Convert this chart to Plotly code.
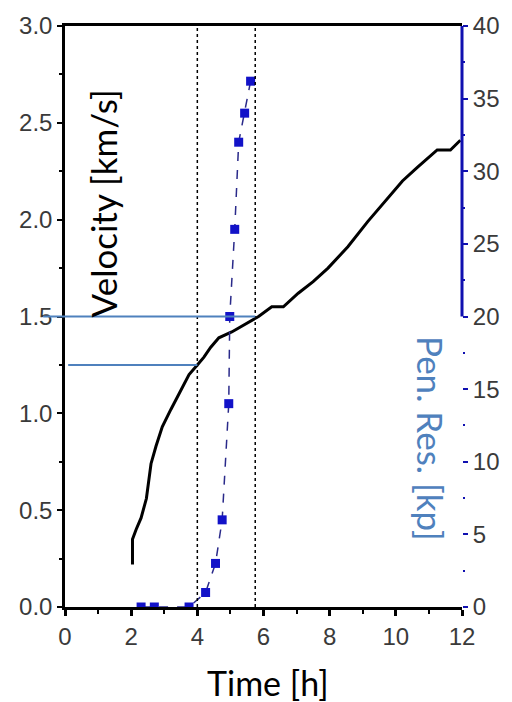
import plotly.graph_objects as go

# Projectile velocity over time (left axis)
time_vel = [2.04, 2.04, 2.15, 2.3, 2.46, 2.6, 2.75, 2.94, 3.2, 3.45, 3.75, 4.0, 4.2, 4.4,
            4.65, 5.04, 5.46, 5.85, 6.25, 6.6, 7.05, 7.5, 7.95, 8.55, 9.15, 9.75, 10.2,
            10.65, 11.25, 11.65, 11.95]
velocity = [0.22, 0.35, 0.40, 0.46, 0.56, 0.74, 0.83, 0.93, 1.02, 1.10, 1.20, 1.25, 1.29, 1.34,
            1.39, 1.42, 1.46, 1.50, 1.55, 1.55, 1.62, 1.68, 1.75, 1.86, 1.99, 2.11, 2.20,
            2.27, 2.36, 2.36, 2.41]

# Penetration resistance (right axis)
time_pen = [2.3, 2.7, 3.75, 4.25, 4.55, 4.75, 4.95, 4.98, 5.13, 5.25, 5.43, 5.61]
pen_res = [0, 0, 0, 1.0, 3.0, 6.0, 14.0, 20.0, 26.0, 32.0, 34.0, 36.2]

# Reference markers
marker_times = [4.0, 5.75]          # vertical dotted lines [h]
marker_velocities = [1.25, 1.5]     # horizontal guide lines [km/s]

x_ticks = [0, 2, 4, 6, 8, 10, 12]
y_ticks = [0.0, 0.5, 1.0, 1.5, 2.0, 2.5, 3.0]
y2_ticks = [0, 5, 10, 15, 20, 25, 30, 35, 40]

X_MAX = 12
TICK_FONT = dict(family="Liberation Sans, Arial", size=24, color="#3a3a3a")
TITLE_FONT = "Lato, Open Sans, sans-serif"
GUIDE_BLUE = "#4f81bd"
AXIS_BLUE = "#1010b0"

# plot-area geometry in pixels, used to place the titles
PL, PT, PW, PH = 65, 25, 400, 582


def px_to_paper(px, py):
    return (px - PL) / PW, (PT + PH - py) / PH


fig = go.Figure()

fig.add_trace(go.Scatter(
    x=time_vel, y=velocity, mode="lines",
    line=dict(color="black", width=3),
    showlegend=False,
))

fig.add_trace(go.Scatter(
    x=time_pen, y=pen_res, mode="lines+markers", yaxis="y2",
    line=dict(color="#2a2a8a", width=1.5, dash="dash"),
    marker=dict(symbol="square", size=9, color="#1212c8"),
    showlegend=False,
))

# vertical dotted time markers
for t in marker_times:
    fig.add_shape(type="line", xref="x", yref="paper", x0=t, x1=t, y0=0, y1=1,
                  line=dict(color="black", width=1.5, dash="dot"))

# horizontal velocity guides, ending at the matching time marker
fig.add_shape(type="line", xref="paper", yref="y",
              x0=-0.055, x1=marker_times[1] / X_MAX,
              y0=marker_velocities[1], y1=marker_velocities[1],
              line=dict(color=GUIDE_BLUE, width=2))
fig.add_shape(type="line", xref="paper", yref="y",
              x0=0.008, x1=marker_times[0] / X_MAX,
              y0=marker_velocities[0], y1=marker_velocities[0],
              line=dict(color=GUIDE_BLUE, width=2))

# visible part of the right axis spine
fig.add_shape(type="line", xref="paper", yref="y2", x0=1, x1=1, y0=20, y1=40,
              line=dict(color=AXIS_BLUE, width=3))

vx, vy = px_to_paper(103, 203)
rx, ry = px_to_paper(433, 438)
tx, ty = px_to_paper(270, 683)

fig.update_layout(
    width=512, height=702,
    margin=dict(l=PL, r=512 - PL - PW, t=PT, b=702 - PT - PH),
    paper_bgcolor="white", plot_bgcolor="white",
    xaxis=dict(
        range=[0, X_MAX], tickvals=x_ticks, ticktext=[str(v) for v in x_ticks],
        showgrid=False, zeroline=False,
        showline=True, linecolor="black", linewidth=2.5, mirror=True,
        ticks="outside", ticklen=6, tickwidth=2.5, tickcolor="black",
        minor=dict(dtick=1, ticks="outside", ticklen=4, tickwidth=2, tickcolor="black"),
        tickfont=TICK_FONT,
    ),
    xaxis2=dict(
        range=[0, X_MAX], overlaying="x", side="top", tickvals=x_ticks,
        showticklabels=False, showgrid=False, zeroline=False,
        ticks="inside", ticklen=5, tickwidth=2.5, tickcolor="black",
        minor=dict(dtick=1, ticks="inside", ticklen=3, tickwidth=2, tickcolor="black"),
    ),
    yaxis=dict(
        range=[0, 3.0], tickvals=y_ticks, ticktext=[f"{v:.1f}" for v in y_ticks],
        showgrid=False, zeroline=False,
        showline=True, linecolor="black", linewidth=2.5,
        ticks="outside", ticklen=5, tickwidth=2, tickcolor="black",
        minor=dict(dtick=0.25, ticks="outside", ticklen=3, tickwidth=1.5, tickcolor="black"),
        tickfont=TICK_FONT,
    ),
    yaxis2=dict(
        range=[0, 40], tickvals=y2_ticks, ticktext=[str(v) for v in y2_ticks],
        overlaying="y", side="right",
        showgrid=False, zeroline=False, showline=False,
        ticks="outside", ticklen=5, tickwidth=2, tickcolor=AXIS_BLUE,
        minor=dict(dtick=2.5, ticks="outside", ticklen=2, tickwidth=1.5, tickcolor=AXIS_BLUE),
        tickfont=TICK_FONT,
    ),
    annotations=[
        dict(text="Velocity [km/s]", textangle=-90, xref="paper", yref="paper",
             x=vx, y=vy, xanchor="center", yanchor="middle", showarrow=False,
             font=dict(family=TITLE_FONT, size=35, color="black")),
        dict(text="Pen. Res. [kp]", textangle=90, xref="paper", yref="paper",
             x=rx, y=ry, xanchor="center", yanchor="middle", showarrow=False,
             font=dict(family=TITLE_FONT, size=35, color=GUIDE_BLUE)),
        dict(text="Time [h]", xref="paper", yref="paper",
             x=tx, y=ty, xanchor="center", yanchor="middle", showarrow=False,
             font=dict(family=TITLE_FONT, size=34, color="black")),
    ],
)

fig.write_html("out.html")
